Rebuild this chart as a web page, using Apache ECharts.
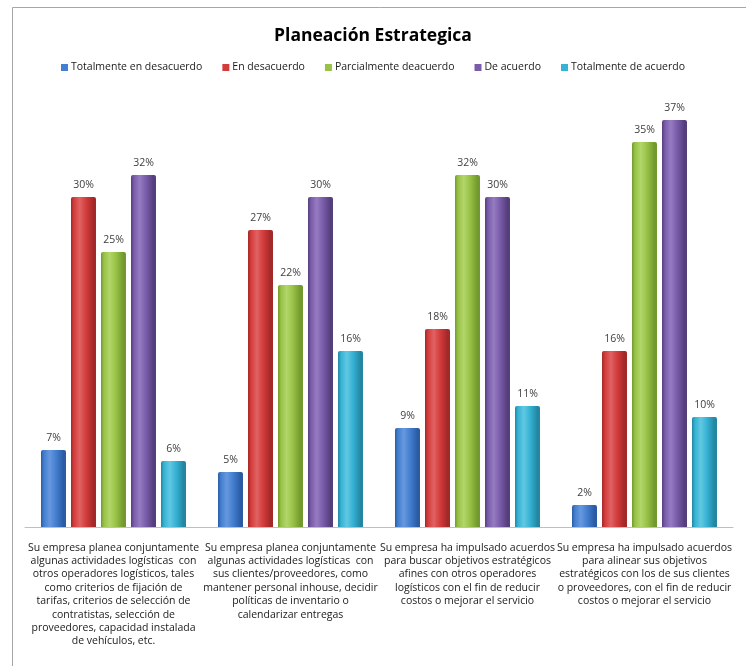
<!DOCTYPE html>
<html>
<head>
<meta charset="utf-8">
<title>Planeación Estrategica</title>
<script src="https://cdn.jsdelivr.net/npm/echarts@6/dist/echarts.min.js"></script>
<style>
  html, body { margin: 0; padding: 0; background: #ffffff; }
  #chart { width: 746px; height: 666px; }
</style>
</head>
<body>
<div id="chart"></div>
<script>
// Survey statements (pre-wrapped the way they are laid out under each group)
const categories = [
  'Su empresa planea conjuntamente\nalgunas actividades logísticas  con\notros operadores logísticos, tales\ncomo criterios de fijación de\ntarifas, criterios de selección de\ncontratistas, selección de\nproveedores, capacidad instalada\nde vehículos, etc.',
  'Su empresa planea conjuntamente\nalgunas actividades logísticas  con\nsus clientes/proveedores, como\nmantener personal inhouse, decidir\npolíticas de inventario o\ncalendarizar entregas',
  'Su empresa ha impulsado acuerdos\npara buscar objetivos estratégicos\nafines con otros operadores\nlogísticos con el fin de reducir\ncostos o mejorar el servicio',
  'Su empresa ha impulsado acuerdos\npara alinear sus objetivos\nestratégicos con los de sus clientes\no proveedores, con el fin de reducir\ncostos o mejorar el servicio'
];

// Answer shares, in percent
const totalmenteEnDesacuerdo = [7, 5, 9, 2];
const enDesacuerdo           = [30, 27, 18, 16];
const parcialmenteDeacuerdo  = [25, 22, 32, 35];
const deAcuerdo              = [32, 30, 30, 37];
const totalmenteDeAcuerdo    = [6, 16, 11, 10];

const seriesNames = [
  'Totalmente en desacuerdo',
  'En desacuerdo',
  'Parcialmente deacuerdo',
  'De acuerdo',
  'Totalmente de acuerdo'
];
const seriesValues = [
  totalmenteEnDesacuerdo,
  enDesacuerdo,
  parcialmenteDeacuerdo,
  deAcuerdo,
  totalmenteDeAcuerdo
];

// [edge, centre, light highlight] for the glossy column look
const palette = [
  ['#2b5ca3', '#437fd0', '#6798de'],
  ['#a32828', '#d43c3c', '#e06262'],
  ['#71992d', '#98c246', '#b2d66a'],
  ['#553e7c', '#7a5caa', '#967bc2'],
  ['#2386a2', '#35b2d4', '#62c8e2']
];

function columnFill(c) {
  return new echarts.graphic.LinearGradient(0, 0, 1, 0, [
    { offset: 0, color: c[0] },
    { offset: 0.12, color: c[1] },
    { offset: 0.35, color: c[2] },
    { offset: 0.6, color: c[1] },
    { offset: 0.9, color: c[0] },
    { offset: 1, color: c[0] }
  ]);
}

const chart = echarts.init(document.getElementById('chart'), null, { renderer: 'canvas' });

const series = seriesNames.map((name, i) => ({
  name: name,
  type: 'bar',
  data: seriesValues[i],
  barWidth: 25,
  barGap: '20%',
  itemStyle: {
    color: columnFill(palette[i]),
    borderRadius: [2, 2, 0, 0]
  },
  label: {
    show: true,
    position: 'top',
    distance: 6,
    formatter: '{c}%',
    fontFamily: 'Open Sans',
    fontSize: 10.5,
    color: '#404040'
  }
}));

chart.setOption({
  backgroundColor: '#ffffff',
  animation: false,
  graphic: [{
    type: 'rect',
    shape: { x: 12.5, y: 7.5, width: 900, height: 900 },
    style: { fill: 'none', stroke: '#a6a6a6', lineWidth: 1 },
    silent: true
  }],
  title: {
    text: 'Planeación Estrategica',
    left: 'center',
    top: 22,
    textStyle: {
      fontFamily: 'Open Sans',
      fontWeight: 'bold',
      fontSize: 17.5,
      color: '#000000'
    }
  },
  legend: {
    top: 57,
    left: 'center',
    itemWidth: 7,
    itemHeight: 7,
    itemGap: 20,
    icon: 'rect',
    textStyle: {
      fontFamily: 'Open Sans',
      fontSize: 10.5,
      color: '#1a1a1a',
      padding: [0, 0, 0, -2]
    },
    data: seriesNames.map((n, i) => ({ name: n, itemStyle: { color: palette[i][1] } }))
  },
  grid: {
    left: 25,
    right: 13,
    top: 87,
    bottom: 139,
    containLabel: false
  },
  xAxis: {
    type: 'category',
    data: categories,
    axisLine: { show: true, lineStyle: { color: '#bfbfbf', width: 1 } },
    axisTick: { show: false },
    axisLabel: {
      interval: 0,
      margin: 14,
      fontFamily: 'Open Sans',
      fontSize: 10.5,
      lineHeight: 13.4,
      color: '#1a1a1a',
      align: 'center'
    }
  },
  yAxis: {
    type: 'value',
    min: 0,
    max: 40,
    interval: 10,
    show: false,
    splitLine: { show: false }
  },
  series: series
});
</script>
</body>
</html>
